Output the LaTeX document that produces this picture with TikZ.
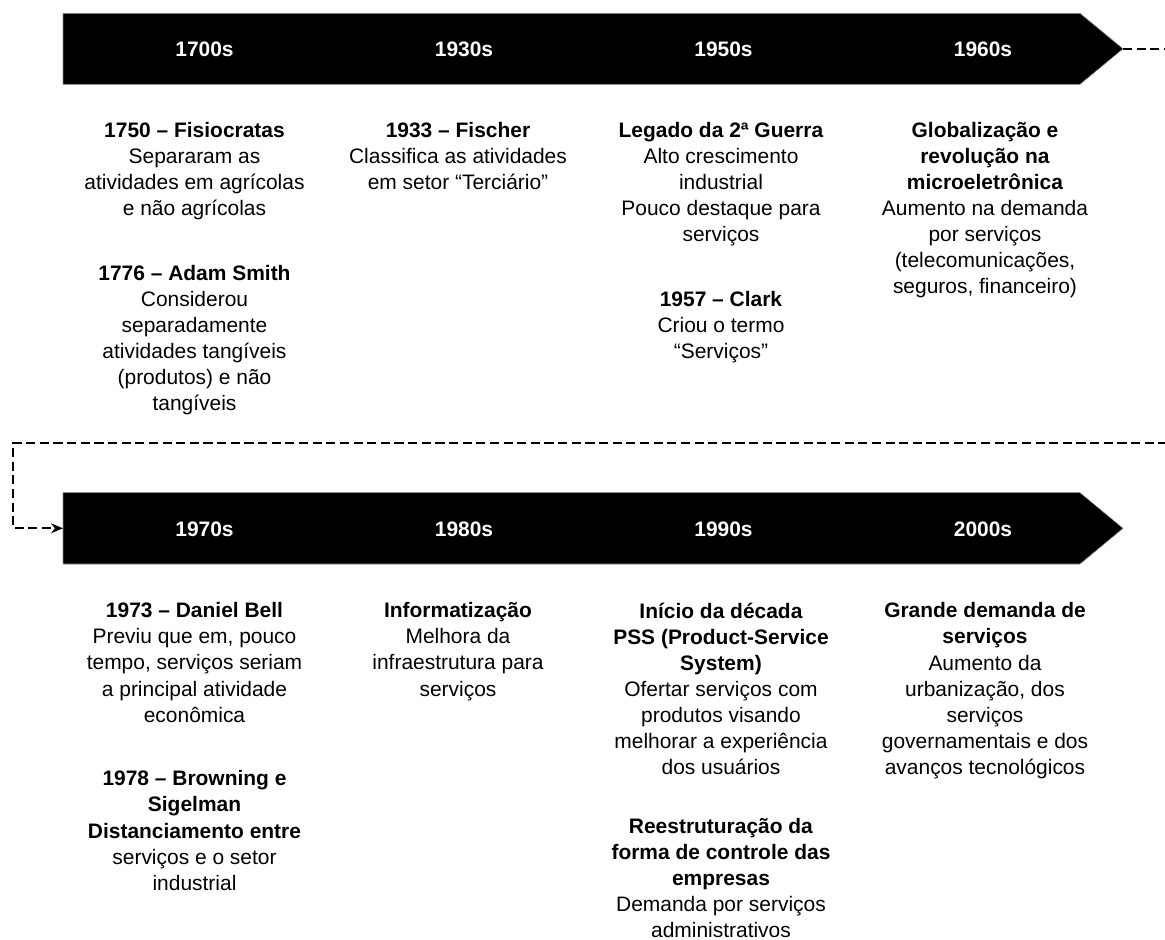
\documentclass[tikz,border=0pt]{standalone}
\usepackage{fontspec}
\setmainfont{Liberation Sans}
\usepackage{tikz}
\usetikzlibrary{arrows.meta}

\tikzset{
  banner/.style={fill=black, draw=black!45, line width=0.4pt},
  decade/.style={text=white, inner sep=0pt, font=\fontsize{14.9}{18.5}\selectfont\bfseries},
  event/.style={align=center, anchor=north, inner sep=0pt, font=\fontsize{14.9}{18.5}\selectfont, execute at begin node=\strut},
  link/.style={line width=1.2pt, dash pattern=on 6.5pt off 3.2pt, -{Stealth[length=8.5pt,width=7pt]}}
}

\begin{document}
\begin{tikzpicture}[x=0.025cm, y=-0.025cm]
\useasboundingbox (0,0) rectangle (1165,940);
%banner
\coordinate (tipA) at (1123,48.8); \coordinate (startB) at (63,528.3);
\coordinate (outR) at (1180,443); \coordinate (turnL) at (13,443);
\filldraw[banner] (63,13.3) -- (1080,13.3) -- (tipA) -- (1080,84.3) -- (63,84.3) -- cycle;
\filldraw[banner] (startB) -- (63,492.7) -- (1080,492.7) -- (1123,528.3) -- (1080,564) -- (63,564) -- cycle;
%decades
\node[decade] (d1700) at (204.5,49.5) {1700s}; \node[decade] (d1930) at (464,49.5) {1930s};
\node[decade] (d1950) at (723.5,49.5) {1950s}; \node[decade] (d1960) at (983,49.5) {1960s};
\node[decade] (d1970) at (204.5,529) {1970s}; \node[decade] (d1980) at (464,529) {1980s};
\node[decade] (d1990) at (723.5,529) {1990s}; \node[decade] (d2000) at (983,529) {2000s};
%link
\draw[link] (tipA) -| (outR) -- (turnL) |- (startB);
%events top
\node[event] (fisio) at (194.5,122.3) {\textbf{1750 – Fisiocratas}\\Separaram as\\atividades em agrícolas\\e não agrícolas};
\node[event] (smith) at (194.5,265.3) {\textbf{1776 – Adam Smith}\\Considerou\\separadamente\\atividades tangíveis\\(produtos) e não\\tangíveis};
\node[event] (fischer) at (458,122.3) {\textbf{1933 – Fischer}\\Classifica as atividades\\em setor “Terciário”};
\node[event] (guerra) at (721,122.3) {\textbf{Legado da 2ª Guerra}\\Alto crescimento\\industrial\\Pouco destaque para\\serviços};
\node[event] (clark) at (721,291.3) {\textbf{1957 – Clark}\\Criou o termo\\“Serviços”};
\node[event] (global) at (985,122.3) {\textbf{Globalização e}\\\textbf{revolução na}\\\textbf{microeletrônica}\\Aumento na demanda\\por serviços\\(telecomunicações,\\seguros, financeiro)};
%events bottom
\node[event] (bell) at (194.5,602.5) {\textbf{1973 – Daniel Bell}\\Previu que em, pouco\\tempo, serviços seriam\\a principal atividade\\econômica};
\node[event] (browning) at (194.5,770.5) {\textbf{1978 – Browning e}\\\textbf{Sigelman}\\\textbf{Distanciamento entre}\\serviços e o setor\\industrial};
\node[event] (inform) at (458,602.5) {\textbf{Informatização}\\Melhora da\\infraestrutura para\\serviços};
\node[event] (pss) at (721,602.5) {\textbf{Início da década}\\\textbf{PSS (Product-Service}\\\textbf{System)}\\Ofertar serviços com\\produtos visando\\melhorar a experiência\\dos usuários};
\node[event] (reestr) at (721,818) {\textbf{Reestruturação da}\\\textbf{forma de controle das}\\\textbf{empresas}\\Demanda por serviços\\administrativos};
\node[event] (grande) at (985,602.5) {\textbf{Grande demanda de}\\\textbf{serviços}\\Aumento da\\urbanização, dos\\serviços\\governamentais e dos\\avanços tecnológicos};
\end{tikzpicture}
\end{document}
